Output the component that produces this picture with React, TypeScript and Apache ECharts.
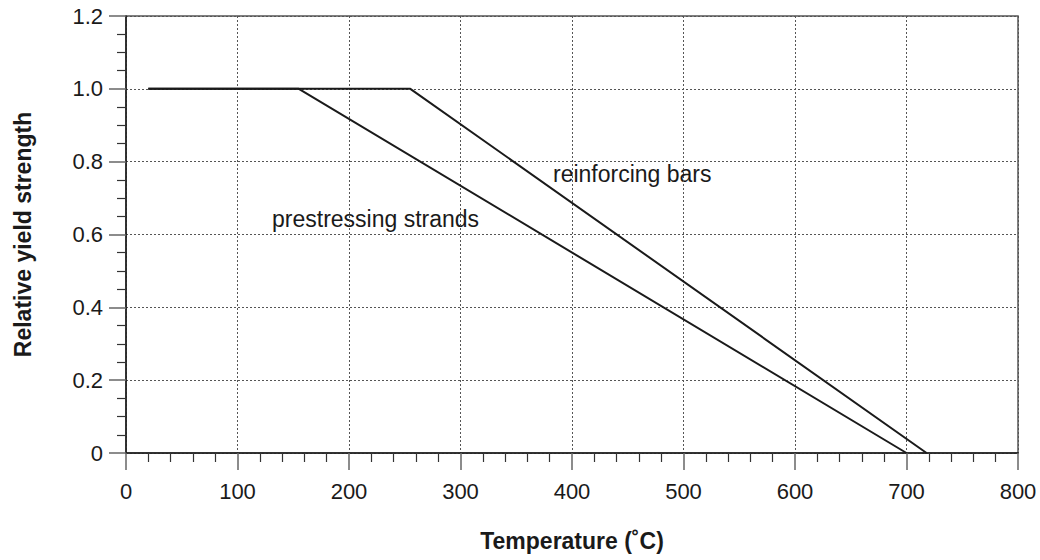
import React, { useEffect, useRef } from "react";
import * as echarts from "echarts";

// Relative yield strength of steel vs. temperature (°C)
const reinforcingTemps = [20, 255, 718];
const reinforcingValues = [1.0, 1.0, 0];
const strandTemps = [20, 155, 700];
const strandValues = [1.0, 1.0, 0];

const xTicks = [0, 100, 200, 300, 400, 500, 600, 700, 800];
const yTicks = [0, 0.2, 0.4, 0.6, 0.8, 1.0, 1.2];

const seriesNames = ["reinforcing bars", "prestressing strands"];

const FONT = "'Liberation Sans', Arial, Helvetica, sans-serif";

export default function App() {
  const ref = useRef<HTMLDivElement>(null);

  useEffect(() => {
    document.body.style.margin = "0";
    const chart = echarts.init(ref.current!, null, { renderer: "svg" });

    const toPairs = (xs: number[], ys: number[]) => xs.map((x, i) => [x, ys[i]]);

    chart.setOption({
      animation: false,
      backgroundColor: "#ffffff",
      textStyle: { fontFamily: FONT },
      grid: {
        left: 126,
        right: 22,
        top: 16,
        bottom: 107,
        show: true,
        borderColor: "#555",
        borderWidth: 1.5,
        backgroundColor: "transparent",
      },
      xAxis: {
        type: "value",
        min: xTicks[0],
        max: xTicks[xTicks.length - 1],
        interval: 100,
        name: "Temperature (˚C)",
        nameLocation: "middle",
        nameGap: 76,
        nameTextStyle: { fontSize: 23, fontWeight: "bold", color: "#1a1a1a", fontFamily: FONT },
        axisLine: { lineStyle: { color: "#1a1a1a", width: 1.5 } },
        axisTick: { show: true, length: 17, lineStyle: { color: "#666", width: 1.5 } },
        minorTick: { show: true, splitNumber: 5, length: 9, lineStyle: { color: "#333", width: 1.2 } },
        axisLabel: { fontSize: 22, color: "#1a1a1a", margin: 27, fontFamily: FONT },
        splitLine: { show: true, lineStyle: { color: "#555", type: [2, 2], width: 1 } },
      },
      yAxis: {
        type: "value",
        min: yTicks[0],
        max: yTicks[yTicks.length - 1],
        interval: 0.2,
        name: "Relative yield strength",
        nameLocation: "middle",
        nameGap: 92,
        nameTextStyle: { fontSize: 23, fontWeight: "bold", color: "#1a1a1a", fontFamily: FONT },
        axisLine: { show: true, lineStyle: { color: "#1a1a1a", width: 1.5 } },
        axisTick: { show: true, length: 17, lineStyle: { color: "#666", width: 1.5 } },
        minorTick: { show: true, splitNumber: 4, length: 9, lineStyle: { color: "#333", width: 1.2 } },
        axisLabel: {
          fontSize: 22,
          color: "#1a1a1a",
          margin: 23,
          fontFamily: FONT,
          formatter: (v: number) => (v === 0 ? "0" : v.toFixed(1)),
        },
        splitLine: { show: true, lineStyle: { color: "#555", type: [2, 2], width: 1 } },
      },
      series: [
        {
          name: seriesNames[0],
          type: "line",
          data: toPairs(reinforcingTemps, reinforcingValues),
          symbol: "none",
          lineStyle: { color: "#1a1a1a", width: 2 },
        },
        {
          name: seriesNames[1],
          type: "line",
          data: toPairs(strandTemps, strandValues),
          symbol: "none",
          lineStyle: { color: "#1a1a1a", width: 2 },
        },
      ],
      graphic: [
        {
          type: "text",
          left: 553,
          top: 162,
          style: { text: seriesNames[0], fontSize: 23, fill: "#1a1a1a", fontFamily: FONT },
        },
        {
          type: "text",
          left: 272,
          top: 207,
          style: { text: seriesNames[1], fontSize: 23, fill: "#1a1a1a", fontFamily: FONT },
        },
      ],
    });

    return () => chart.dispose();
  }, []);

  return <div ref={ref} style={{ width: 1040, height: 560 }} />;
}
